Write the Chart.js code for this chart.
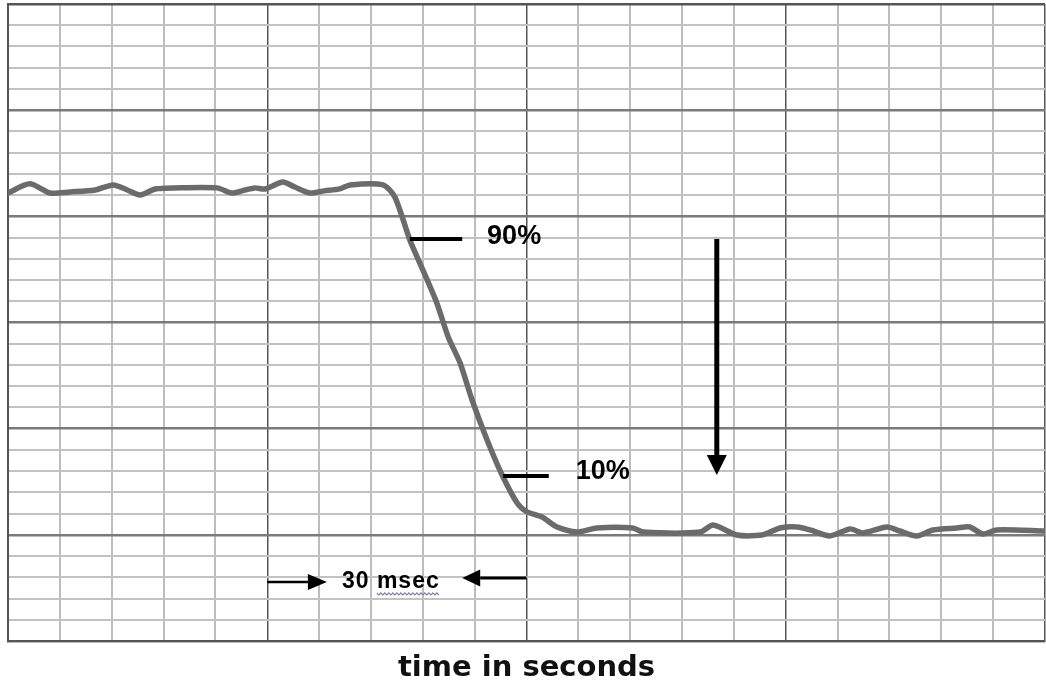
<!DOCTYPE html>
<html>
<head>
<meta charset="utf-8">
<title>Fall time</title>
<script src="https://cdn.jsdelivr.net/npm/chart.js@4/dist/chart.umd.min.js"></script>
<style>
  html, body { margin: 0; padding: 0; background: #ffffff; }
  #wrap { width: 1046px; height: 690px; position: relative; }
</style>
</head>
<body>
<div id="wrap"><canvas id="chart"></canvas></div>
<script>
// Trace samples: time in grid divisions, level in grid divisions
const timeDiv = [0, 0.42, 0.81, 1.2, 1.68, 2.03, 2.3, 2.55, 2.84, 3.2, 4.03, 4.32, 4.57, 4.76, 4.96,
  5.30, 5.53, 5.82, 6.1, 6.40, 6.60, 7.23, 7.46, 7.75, 8.00, 8.27, 8.49, 8.72, 8.95, 9.24, 9.53,
  9.82, 10.01, 10.30, 10.59, 10.97, 11.36, 12.05, 12.25, 13.35, 13.60, 14.06, 14.54, 14.89, 15.22,
  15.47, 15.85, 16.24, 16.49, 16.95, 17.20, 17.53, 17.84, 18.30, 18.55, 18.80, 19.07, 20.0];
const level = [21.10, 21.53, 21.10, 21.15, 21.24, 21.48, 21.24, 21.01, 21.29, 21.34, 21.34, 21.10, 21.24, 21.34, 21.29,
  21.62, 21.38, 21.10, 21.20, 21.29, 21.48, 21.48, 20.91, 18.89, 17.48, 15.92, 14.32, 13.09, 11.35, 9.47, 7.82,
  6.50, 6.08, 5.84, 5.37, 5.13, 5.32, 5.32, 5.13, 5.13, 5.46, 4.99, 4.99, 5.32, 5.37,
  5.23, 4.95, 5.28, 5.09, 5.37, 5.18, 4.95, 5.23, 5.32, 5.37, 5.04, 5.23, 5.18];

// Grid extent and spacing (divisions)
const xDivisions = [0, 20];
const yDivisions = [0, 30];
const majorEvery = 5;

// Level markers: label, tick start/end time, tick level, label position
const markLabels = ['90%', '10%'];
const markTickFrom = [7.75, 9.55];
const markTickTo = [8.76, 10.43];
const markLevel = [18.93, 7.77];
const markTextTime = [9.24, 10.95];
const markTextLevel = [19.03, 7.96];

// Downward arrow showing the fall
const fallArrowTime = 13.67;
const fallArrowLevels = [18.93, 7.82];

// Interval arrows and label
const spanLabel = '30 msec';
const spanStart = [5.0, 6.15, 2.78];   // tail time, tip time, level
const spanEnd = [10.0, 8.76, 2.97];    // tail time, tip time, level
const spanLabelPos = [6.44, 2.78];

const axisTitle = 'time in seconds';

const points = timeDiv.map((t, i) => ({ x: t, y: level[i] }));

function arrow(ctx, x0, y0, x1, y1, shaft, headLen, headHalf) {
  const ang = Math.atan2(y1 - y0, x1 - x0);
  const bx = x1 - Math.cos(ang) * headLen;
  const by = y1 - Math.sin(ang) * headLen;
  ctx.beginPath();
  ctx.lineWidth = shaft;
  ctx.lineCap = 'butt';
  ctx.moveTo(x0, y0);
  ctx.lineTo(bx, by);
  ctx.stroke();
  ctx.beginPath();
  ctx.moveTo(x1, y1);
  ctx.lineTo(bx - Math.sin(ang) * headHalf, by + Math.cos(ang) * headHalf);
  ctx.lineTo(bx + Math.sin(ang) * headHalf, by - Math.cos(ang) * headHalf);
  ctx.closePath();
  ctx.fill();
}

const annotations = {
  id: 'annotations',
  afterDatasetsDraw(chart) {
    const { ctx, scales: { x, y } } = chart;
    ctx.save();
    ctx.strokeStyle = '#000';
    ctx.fillStyle = '#000';

    // level ticks and percentage labels
    for (let i = 0; i < markLabels.length; i++) {
      const py = y.getPixelForValue(markLevel[i]);
      ctx.beginPath();
      ctx.lineWidth = 4;
      ctx.lineCap = 'butt';
      ctx.moveTo(x.getPixelForValue(markTickFrom[i]), py);
      ctx.lineTo(x.getPixelForValue(markTickTo[i]), py);
      ctx.stroke();
      ctx.font = 'bold 27px "Liberation Sans", Arial, sans-serif';
      ctx.textBaseline = 'middle';
      ctx.textAlign = 'left';
      ctx.fillText(markLabels[i], x.getPixelForValue(markTextTime[i]), y.getPixelForValue(markTextLevel[i]));
    }

    // fall arrow
    const fx = x.getPixelForValue(fallArrowTime);
    arrow(ctx, fx, y.getPixelForValue(fallArrowLevels[0]), fx, y.getPixelForValue(fallArrowLevels[1]), 5, 20, 10);

    // interval arrows
    arrow(ctx, x.getPixelForValue(spanStart[0]), y.getPixelForValue(spanStart[2]),
      x.getPixelForValue(spanStart[1]), y.getPixelForValue(spanStart[2]), 2.5, 19, 8);
    arrow(ctx, x.getPixelForValue(spanEnd[0]), y.getPixelForValue(spanEnd[2]),
      x.getPixelForValue(spanEnd[1]), y.getPixelForValue(spanEnd[2]), 3, 18, 8.5);

    // interval label with proofing underline under the unit
    ctx.font = 'bold 23px "Liberation Sans", Arial, sans-serif';
    ctx.letterSpacing = '1px';
    ctx.textBaseline = 'middle';
    ctx.textAlign = 'left';
    const lx = x.getPixelForValue(spanLabelPos[0]);
    const ly = y.getPixelForValue(spanLabelPos[1]);
    ctx.fillText(spanLabel, lx, ly);
    const parts = spanLabel.split(' ');
    const sx = lx + ctx.measureText(parts[0] + ' ').width;
    const sw = ctx.measureText(parts[1]).width;
    ctx.beginPath();
    ctx.strokeStyle = '#8585a8';
    ctx.lineWidth = 1.2;
    const sy = ly + 11;
    for (let k = 0; k <= sw; k += 2) {
      const yy = sy + ((k / 2) % 2 === 0 ? 0 : 2);
      if (k === 0) ctx.moveTo(sx + k, yy); else ctx.lineTo(sx + k, yy);
    }
    ctx.stroke();
    ctx.restore();
  }
};

const isMajor = v => Math.abs(v % majorEvery) < 1e-9;

new Chart(document.getElementById('chart'), {
  type: 'line',
  data: {
    datasets: [{
      data: points,
      borderColor: '#6b6b6b',
      borderWidth: 5.5,
      pointRadius: 0,
      tension: 0.25,
      borderCapStyle: 'round',
      borderJoinStyle: 'round',
      fill: false
    }]
  },
  options: {
    responsive: true,
    maintainAspectRatio: false,
    animation: false,
    events: [],
    layout: { padding: { left: 8, top: 4, right: 1, bottom: 0 } },
    plugins: { legend: { display: false }, tooltip: { enabled: false } },
    scales: {
      x: {
        type: 'linear',
        min: xDivisions[0],
        max: xDivisions[1],
        ticks: { display: false, stepSize: 1 },
        grid: {
          drawTicks: false,
          color: c => isMajor(c.tick.value) ? '#555555' : '#bdbdbd',
          lineWidth: c => isMajor(c.tick.value) ? 1.5 : 2
        },
        border: { display: true, color: '#555555', width: 2 },
        title: {
          display: true,
          text: axisTitle,
          color: '#111111',
          font: { family: '"DejaVu Sans", sans-serif', size: 29, weight: 'bold' },
          padding: { top: 10, bottom: 4.2 }
        }
      },
      y: {
        type: 'linear',
        min: yDivisions[0],
        max: yDivisions[1],
        ticks: { display: false, stepSize: 1 },
        grid: {
          drawTicks: false,
          color: c => (c.tick.value === yDivisions[1]) ? '#555555' : (isMajor(c.tick.value) ? '#7a7a7a' : '#c2c2c2'),
          lineWidth: c => isMajor(c.tick.value) ? 2.5 : 2
        },
        border: { display: true, color: '#555555', width: 2 }
      }
    }
  },
  plugins: [annotations]
});
</script>
</body>
</html>
